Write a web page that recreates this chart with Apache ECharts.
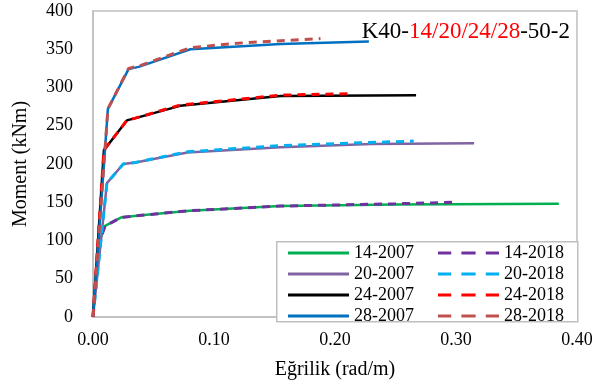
<!DOCTYPE html>
<html>
<head>
<meta charset="utf-8">
<script src="https://cdn.jsdelivr.net/npm/echarts@6/dist/echarts.min.js"></script>
<style>html,body{margin:0;padding:0;background:#fff}#c{width:612px;height:385px}</style>
</head>
<body>
<div id="c"></div>
<script>
// Data: [curvature (rad/m), moment (kNm)]
const s14_2007 = [[0,0],[0.0045,95],[0.010,119],[0.023,130],[0.04,133],[0.08,139],[0.155,145],[0.25,147],[0.385,148]];
const s14_2018 = [[0,0],[0.0045,95],[0.010,119],[0.023,130],[0.04,133],[0.08,139],[0.155,145],[0.25,148],[0.30,150]];
const s20_2007 = [[0,0],[0.0115,175],[0.025,200],[0.035,202],[0.078,215],[0.155,222],[0.23,226],[0.315,227]];
const s20_2018 = [[0,0],[0.0115,175],[0.025,200],[0.035,202],[0.078,216],[0.155,224],[0.265,230]];
const s24_2007 = [[0,0],[0.009,218],[0.028,257],[0.035,260],[0.072,276],[0.155,289],[0.267,290]];
const s24_2018 = [[0,0],[0.009,218],[0.028,257],[0.035,260],[0.072,277],[0.155,290],[0.214,292]];
const s28_2007 = [[0,0],[0.0123,272],[0.0294,324],[0.0377,327],[0.0805,350],[0.155,357],[0.228,360]];
const s28_2018 = [[0,0],[0.0123,272],[0.0294,325],[0.0377,328],[0.0805,352],[0.12,358],[0.188,364]];
const xTicks = [0, 0.1, 0.2, 0.3, 0.4];
const yTicks = [0, 50, 100, 150, 200, 250, 300, 350, 400];

const FONT = '"Liberation Serif", "Times New Roman", serif';
function ser(name, data, color, dashed) {
  return {
    name, type: 'line', data, symbol: 'none', showSymbol: false, smooth: false,
    legendIcon: 'rect',
    lineStyle: { color, width: dashed ? 3 : 2.5, type: dashed ? [8, 6] : 'solid' },
    itemStyle: { color },
    z: dashed ? 3 : 2
  };
}
const series = [
  ser('14-2007', s14_2007, '#00B050', false),
  ser('20-2007', s20_2007, '#8064A2', false),
  ser('24-2007', s24_2007, '#000000', false),
  ser('28-2007', s28_2007, '#0070C0', false),
  ser('14-2018', s14_2018, '#7030A0', true),
  ser('20-2018', s20_2018, '#00B0F0', true),
  ser('24-2018', s24_2018, '#FF0000', true),
  ser('28-2018', s28_2018, '#C0504D', true)
];
// legend icon: a horizontal line drawn as a path (solid / dashed)
const solidIcon = 'path://M0,6 L60,6 L60,9 L0,9 Z';
const dashIcon = 'path://M0,6 L13,6 L13,9 L0,9 Z M23,6 L37,6 L37,9 L23,9 Z M47,6 L60,6 L60,9 L47,9 Z';
const legendBase = {
  orient: 'vertical', itemWidth: 61, itemHeight: 14, itemGap: 3,
  textStyle: { fontFamily: FONT, fontSize: 18, color: '#000', lineHeight: 14 },
  padding: 0
};
function legItems(names, icon) { return names.map(n => ({ name: n, icon })); }
const chart = echarts.init(document.getElementById('c'), null, { renderer: 'canvas' });
chart.setOption({
  animation: false,
  backgroundColor: '#fff',
  title: {
    text: '{b|K40-}{r|14/20/24/28}{b|-50-2}',
    right: 37, top: 15,
    textStyle: { fontWeight: 'normal', rich: {
      b: { fontFamily: FONT, fontSize: 23, fontWeight: 'normal', color: '#000' },
      r: { fontFamily: FONT, fontSize: 23, fontWeight: 'normal', color: '#FF0000' }
    } }
  },
  grid: { left: 93, top: 11, right: 35, bottom: 63, show: true, borderColor: '#BFBFBF', borderWidth: 1.5, backgroundColor: 'transparent' },
  xAxis: {
    type: 'value', min: 0, max: 0.4, interval: 0.1,
    name: 'Eğrilik (rad/m)', nameLocation: 'middle', nameGap: 43,
    nameTextStyle: { fontFamily: FONT, fontSize: 20, color: '#000' },
    axisLine: { show: true, lineStyle: { color: '#BFBFBF', width: 1.5 } },
    axisTick: { show: false }, splitLine: { show: false },
    axisLabel: { fontFamily: FONT, fontSize: 18, color: '#000', margin: 14, formatter: v => v.toFixed(2) }
  },
  yAxis: {
    type: 'value', min: 0, max: 400, interval: 50,
    name: 'Moment (kNm)', nameLocation: 'middle', nameGap: 62,
    nameTextStyle: { fontFamily: FONT, fontSize: 20, color: '#000' },
    axisLine: { show: true, lineStyle: { color: '#BFBFBF', width: 1.5 } },
    axisTick: { show: false }, splitLine: { show: false },
    axisLabel: { fontFamily: FONT, fontSize: 18, color: '#000', margin: 20 }
  },
  legend: [
    Object.assign({}, legendBase, { left: 288, top: 244, data: legItems(['14-2007', '20-2007', '24-2007', '28-2007'], solidIcon) }),
    Object.assign({}, legendBase, { left: 438, top: 244, data: legItems(['14-2018', '20-2018', '24-2018', '28-2018'], dashIcon) })
  ],
  graphic: [{
    type: 'rect', z: 3, left: 276, top: 241,
    shape: { width: 301, height: 80 },
    style: { fill: '#fff', stroke: '#BFBFBF', lineWidth: 1.5 }
  }],
  series
});
</script>
</body>
</html>
